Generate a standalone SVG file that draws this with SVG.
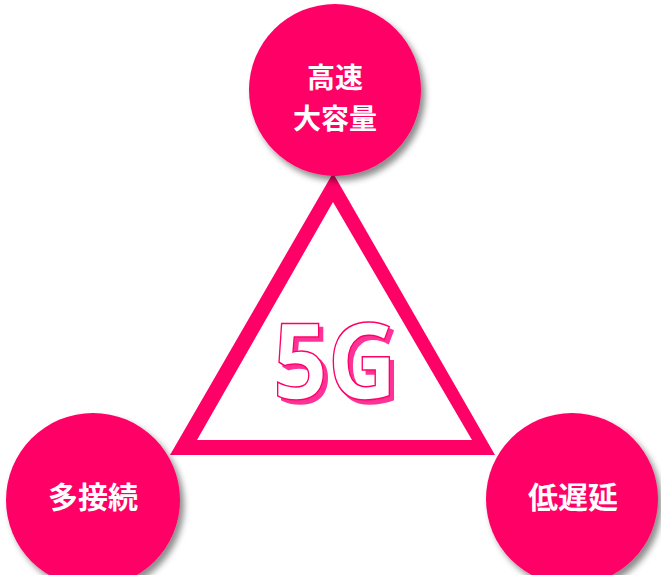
<svg xmlns="http://www.w3.org/2000/svg" width="661" height="575" viewBox="0 0 661 575">
<style>
.node{fill:#FF0066;filter:url(#sh);}
.lbl{font-family:"Noto Sans CJK JP","Noto Sans CJK SC",sans-serif;font-weight:bold;font-size:30px;fill:#fff;text-anchor:middle;dominant-baseline:central;}
.top{font-size:28px;}
.g5{font-family:"Open Sans","Liberation Sans",sans-serif;font-weight:bold;font-size:106px;text-anchor:middle;fill:#fff;stroke:#FF0066;stroke-width:1.5;filter:url(#ts);}
</style>
<defs>
<filter id="sh" x="-20%" y="-20%" width="150%" height="150%">
<feDropShadow dx="4" dy="5" stdDeviation="3" flood-color="#000" flood-opacity="0.45"/>
</filter>
<filter id="ts" x="-10%" y="-10%" width="130%" height="130%">
<feOffset in="SourceAlpha" dx="4" dy="4" result="o"/>
<feFlood flood-color="#FF3399"/>
<feComposite in2="o" operator="in" result="s"/>
<feMerge><feMergeNode in="s"/><feMergeNode in="SourceGraphic"/></feMerge>
</filter>
</defs>
<rect width="661" height="575" fill="#fff"/>
<g id="connectors">
<path d="M333,173 L495,455 L170,455 Z M333,202 L197,440 L472,440 Z" fill="#FF0066" fill-rule="evenodd"/>
</g>
<g id="center">
<text class="g5" x="335" y="399" textLength="124" lengthAdjust="spacingAndGlyphs">5G</text>
</g>
<g id="top">
<circle class="node" cx="335" cy="90" r="86"/>
<text class="lbl top" x="335" y="75.5">高速</text>
<text class="lbl top" x="335" y="116.5">大容量</text>
</g>
<g id="left">
<circle class="node" cx="93" cy="500" r="87"/>
<text class="lbl" x="93" y="495">多接続</text>
</g>
<g id="right">
<circle class="node" cx="572" cy="499" r="86"/>
<text class="lbl" x="573" y="495">低遅延</text>
</g>
</svg>
